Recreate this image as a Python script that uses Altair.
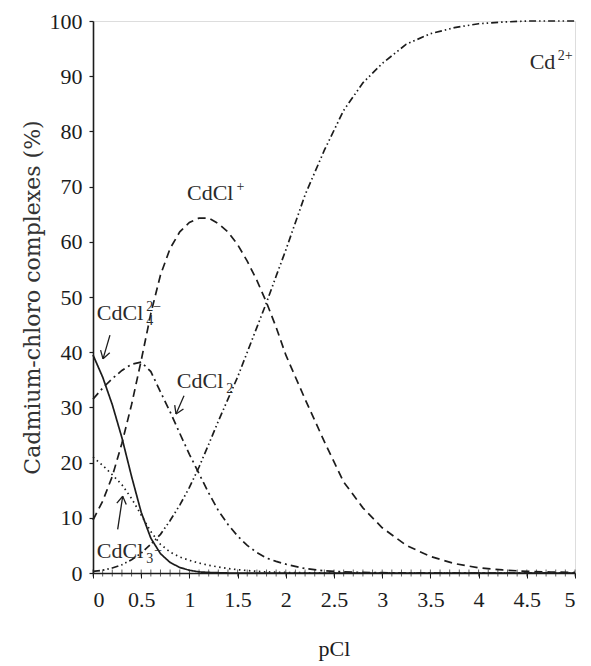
import math
import altair as alt
import pandas as pd

# ---------------- data ----------------
x_vals = [0, 0.1, 0.2, 0.3, 0.4, 0.5, 0.6, 0.7, 0.8, 0.9, 1.0, 1.1, 1.2, 1.3, 1.4,
          1.5, 1.6, 1.7, 1.8, 1.9, 2.0, 2.2, 2.4, 2.6, 2.8, 3.0, 3.25, 3.5, 3.75,
          4.0, 4.25, 4.5, 4.75, 5.0]

cd2 = [0.3, 0.5, 0.9, 1.5, 2.4, 3.6, 5.2, 7.0, 9.5, 12.3, 15.5, 19.2, 23.3, 27.5, 31.5,
       35.5, 40.0, 44.5, 49.0, 53.8, 58.5, 68.5, 76.6, 83.8, 88.8, 92.3, 95.8, 97.7, 98.8,
       99.5, 99.8, 100, 100, 100]

cdcl = [9.6, 13.0, 17.5, 23.5, 30.5, 38.5, 47.0, 54.0, 58.8, 61.8, 63.5, 64.3, 64.3, 63.3, 61.8,
        59.5, 56.5, 53.0, 49.0, 44.5, 39.5, 31.5, 23.8, 16.5, 11.8, 8.2, 5.0, 3.0, 1.7,
        0.95, 0.55, 0.3, 0.18, 0.1]

cdcl2 = [31.5, 33.5, 35.2, 36.7, 37.8, 38.2, 36.5, 32.8, 29.2, 25.3, 21.5, 18.0, 14.5, 11.3, 8.8,
         6.7, 5.0, 3.7, 2.7, 2.1, 1.6, 0.8, 0.4, 0.2, 0.1, 0.05, 0, 0, 0,
         0, 0, 0, 0, 0]

cdcl3 = [21.0, 19.5, 17.8, 16.0, 13.5, 10.5, 7.5, 5.2, 3.8, 2.9, 2.3, 1.8, 1.4, 1.1, 0.8,
         0.6, 0.45, 0.3, 0.2, 0.15, 0.1, 0.05, 0, 0, 0, 0, 0, 0, 0,
         0, 0, 0, 0, 0]

cdcl4 = [39.5, 35.5, 30.5, 24.5, 17.5, 11.0, 6.3, 3.5, 1.9, 1.0, 0.5, 0.2, 0.1, 0.05, 0,
         0, 0, 0, 0, 0, 0, 0, 0, 0, 0, 0, 0, 0, 0,
         0, 0, 0, 0, 0]

series_names = ["Cd2+", "CdCl+", "CdCl2", "CdCl3-", "CdCl4 2-"]
series_values = [cd2, cdcl, cdcl2, cdcl3, cdcl4]
dash_patterns = [[7, 3, 1.5, 3, 1.5, 3], [8, 5], [8, 4, 2, 4], [1.5, 3.5], [1, 0]]

x_ticks = [0, 0.5, 1, 1.5, 2, 2.5, 3, 3.5, 4, 4.5, 5]
y_ticks = [0, 10, 20, 30, 40, 50, 60, 70, 80, 90, 100]
minor_ticks = [round(i * 0.1, 1) for i in range(51)]

# species labels: base text, subscript, superscript, left edge x, baseline y
label_base = ["Cd", "CdCl", "CdCl", "CdCl", "CdCl"]
label_sub = ["", "", "2", "3", "4"]
label_sup = ["2+", "+", "", "−", "2−"]
label_x = [4.53, 0.975, 0.87, 0.04, 0.04]
label_y = [91.3, 67.6, 33.5, 2.7, 45.8]
base_width_px = {"Cd": 27.0, "CdCl": 48.5}   # width of base text at 22px

# arrows: start -> tip (data coordinates)
arrow_x1 = [0.176, 0.944, 0.256]
arrow_y1 = [43.1, 32.1, 7.9]
arrow_x2 = [0.104, 0.861, 0.308]
arrow_y2 = [38.8, 28.8, 13.9]

# ---------------- layout ----------------
W, H = 482, 552
SX, SY = W / 5.0, H / 100.0
INK = "#1c1c1c"
SERIF = "Liberation Serif"

rows = []
for name, vals in zip(series_names, series_values):
    for xv, yv in zip(x_vals, vals):
        rows.append({"x": xv, "v": yv, "s": name})
df = pd.DataFrame(rows)

# arrow segments (shaft + two head strokes)
seg = []
head_len, head_ang = 9.0, math.radians(32)
for x1, y1, x2, y2 in zip(arrow_x1, arrow_y1, arrow_x2, arrow_y2):
    seg.append({"x": x1, "y": y1, "x2": x2, "y2": y2})
    px1, py1, px2, py2 = x1 * SX, y1 * SY, x2 * SX, y2 * SY
    dx, dy = px2 - px1, py2 - py1
    n = math.hypot(dx, dy)
    ux, uy = dx / n, dy / n
    for sgn in (1, -1):
        c, s = math.cos(sgn * head_ang), math.sin(sgn * head_ang)
        rx, ry = ux * c - uy * s, ux * s + uy * c
        ax, ay = px2 - head_len * rx, py2 - head_len * ry
        seg.append({"x": ax / SX, "y": ay / SY, "x2": x2, "y2": y2})
seg_df = pd.DataFrame(seg)

base_df = pd.DataFrame({"t": label_base, "x": label_x, "y": label_y})
script_rows = []
for b, sb, sp, lx, ly in zip(label_base, label_sub, label_sup, label_x, label_y):
    sx = lx + (base_width_px[b] + 1.0) / SX
    if sb:
        script_rows.append({"t": sb, "x": sx, "y": ly - 5 / SY})
    if sp:
        # a lone minus follows the subscript; otherwise the superscript is stacked
        spx = sx + 8.0 / SX if (sb and sp == "−") else sx
        spy = ly + 3 / SY if (sb and sp == "−") else ly + 9 / SY
        script_rows.append({"t": sp, "x": spx, "y": spy})
script_df = pd.DataFrame(script_rows)
minor_df = pd.DataFrame({"x": minor_ticks, "y": [0] * len(minor_ticks)})

xscale = alt.Scale(domain=[0, 5], nice=False, zero=False)
yscale = alt.Scale(domain=[0, 100], nice=False)

x_axis = alt.Axis(values=x_ticks, format="~g", title="pCl", grid=False,
                  labelFont=SERIF, labelFontSize=22, labelColor=INK,
                  labelPadding=11, tickSize=5, tickColor=INK, tickWidth=1,
                  domainColor=INK, domainWidth=1.6,
                  titleFont=SERIF, titleFontSize=22, titleFontWeight="normal",
                  titleColor=INK, titlePadding=28)
y_axis = alt.Axis(values=y_ticks, format="d", title="Cadmium-chloro complexes (%)",
                  grid=False, labelFont=SERIF, labelFontSize=22, labelColor=INK,
                  labelPadding=7, tickSize=4, tickColor=INK, tickWidth=1.2,
                  domainColor=INK, domainWidth=1.6,
                  titleFont="DejaVu Serif", titleFontSize=22, titleFontWeight="normal",
                  titleColor="#333333", titlePadding=5)

lines = alt.Chart(df).mark_line(strokeWidth=1.7, color=INK).encode(
    x=alt.X("x:Q", scale=xscale, axis=x_axis),
    y=alt.Y("v:Q", scale=yscale, axis=y_axis),
    strokeDash=alt.StrokeDash("s:N", scale=alt.Scale(domain=series_names, range=dash_patterns),
                              legend=None),
    detail="s:N",
)

minor = alt.Chart(minor_df).mark_tick(orient="vertical", size=7, thickness=1, color=INK).encode(
    x=alt.X("x:Q", scale=xscale), y=alt.Y("y:Q", scale=yscale)
)

arrows = alt.Chart(seg_df).mark_rule(strokeWidth=1.3, color=INK).encode(
    x=alt.X("x:Q", scale=xscale), y=alt.Y("y:Q", scale=yscale), x2="x2:Q", y2="y2:Q"
)

base_text = alt.Chart(base_df).mark_text(font=SERIF, fontSize=22, color="#2a2a2a",
                                         align="left", baseline="alphabetic").encode(
    x=alt.X("x:Q", scale=xscale), y=alt.Y("y:Q", scale=yscale), text="t:N"
)
script_text = alt.Chart(script_df).mark_text(font=SERIF, fontSize=14, color="#2a2a2a",
                                             align="left", baseline="alphabetic").encode(
    x=alt.X("x:Q", scale=xscale), y=alt.Y("y:Q", scale=yscale), text="t:N"
)

chart = alt.layer(lines, minor, arrows, base_text, script_text).properties(
    width=W, height=H,
    autosize=alt.AutoSizeParams(type="none"),
    padding={"left": 85, "top": 13, "right": 8, "bottom": 95},
).configure_view(stroke=None).configure(background="white")

chart.save("out.html", embed_options={"renderer": "svg", "actions": False})
